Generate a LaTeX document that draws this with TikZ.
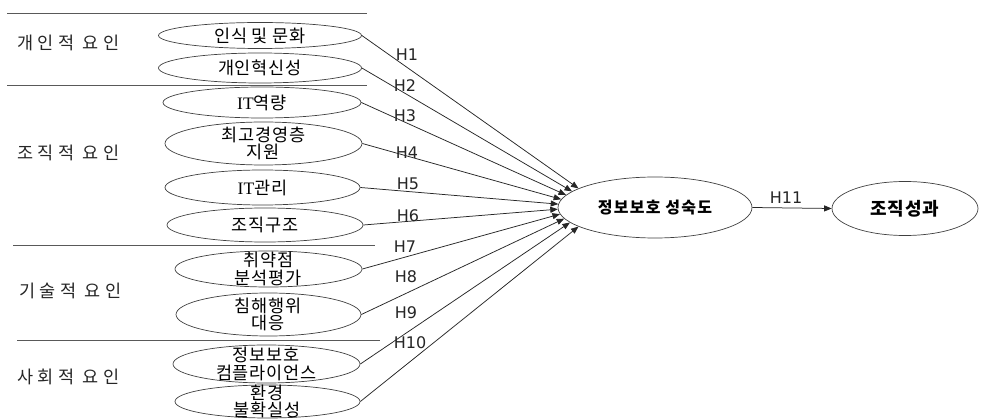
\documentclass[tikz,border=0pt]{standalone}
\usepackage{fontspec}
\setmainfont{DejaVu Sans}
\newfontfamily\kr{Noto Sans CJK KR}[LetterSpace=5]
\newfontfamily\krgroup{Noto Sans CJK KR}[LetterSpace=26]
\newfontfamily\krmid{Noto Sans CJK KR}[LetterSpace=8]
\newfontfamily\krout{Noto Sans CJK KR}[LetterSpace=5]
\newfontfamily\latinserif{Liberation Serif}
\usetikzlibrary{shapes.geometric,arrows.meta}

% Latin "IT" set in a serif face inside the Korean labels
\newcommand{\itword}{{\latinserif IT}}
% wider gap between the two words of a group label
\newcommand{\wgap}{\hspace{8pt}}

\tikzset{
  oval/.style={ellipse, draw=black!75, line width=0.7pt, inner sep=0pt},
  otext/.style={font=\kr\fontsize{17.5}{17.5}\selectfont, align=center, inner sep=0pt},
  grp/.style={font=\krgroup\fontsize{17.5}{19}\selectfont, anchor=west, inner sep=0pt, text=black!85},
  sepline/.style={draw=black!65, line width=0.8pt},
  hyp/.style={draw=black!85, line width=0.75pt, -{Triangle[length=7.5pt,width=6pt]}},
  hlab/.style={font=\fontsize{16}{18}\selectfont, text=black!85, inner sep=0pt},
}

\begin{document}
\begin{tikzpicture}[x=1pt, y=-1pt]
  \useasboundingbox[fill=white] (0,0) rectangle (981,419);

  % group separators
  \draw[sepline] (7,13) -- (367,13);
  \draw[sepline] (7,85) -- (367,85);
  \draw[sepline] (13,245) -- (375,245);
  \draw[sepline] (17,340) -- (380,340);

  % group labels
  \node[grp] (g1) at (17,43) {개인적\wgap 요인};
  \node[grp] (g2) at (17,153) {조직적\wgap 요인};
  \node[grp] (g3) at (19,291) {기술적\wgap 요인};
  \node[grp] (g4) at (17,377) {사회적\wgap 요인};

  % factor ellipses
  \node[oval, minimum width=203, minimum height=26] (f1)  at (260,35.5) {};
  \node[oval, minimum width=203, minimum height=30] (f2)  at (260,68) {};
  \node[oval, minimum width=198, minimum height=31] (f3)  at (262,102.5) {};
  \node[oval, minimum width=197, minimum height=43] (f4)  at (263.5,143.5) {};
  \node[oval, minimum width=195, minimum height=35] (f5)  at (262.5,187.5) {};
  \node[oval, minimum width=196, minimum height=34] (f6)  at (265,225) {};
  \node[oval, minimum width=187, minimum height=36] (f7)  at (268.5,269) {};
  \node[oval, minimum width=185, minimum height=43] (f8)  at (268.5,314.5) {};
  \node[oval, minimum width=187, minimum height=38] (f9)  at (266.5,364) {};
  \node[oval, minimum width=185, minimum height=33] (f10) at (267.5,401.5) {};

  \node[otext] (f1t)  at (f1)  {인식 및 문화};
  \node[otext] (f2t)  at (f2)  {개인혁신성};
  \node[otext] (f3t)  at (f3)  {\itword 역량};
  \node[otext] (f4t)  at (f4)  {최고경영층\\지원};
  \node[otext] (f5t)  at (f5)  {\itword 관리};
  \node[otext] (f6t)  at (f6)  {조직구조};
  \node[otext] (f7t)  at (f7)  {취약점\\분석평가};
  \node[otext] (f8t)  at (f8)  {침해행위\\대응};
  \node[otext] (f9t)  at (f9)  {정보보호\\컴플라이언스};
  \node[otext] (f10t) at (f10) {환경\\불확실성};

  % mediator and outcome
  \node[oval, minimum width=194, minimum height=61] (mid) at (655,207.5) {};
  \node[font=\krmid\bfseries\fontsize{16}{18}\selectfont, inner sep=0pt] (midt) at (mid) {정보보호 성숙도};
  \node[oval, minimum width=146, minimum height=54] (out) at (905,208.5) {};
  \node[font=\krout\bfseries\fontsize{18}{20}\selectfont, inner sep=0pt] (outt) at (out) {조직성과};

  % hypothesis paths
  \draw[hyp] (f1.east)  -- (mid.166);
  \draw[hyp] (f2.east)  -- (mid.169.1);
  \draw[hyp] (f3.east)  -- (mid.172.2);
  \draw[hyp] (f4.east)  -- (mid.175.3);
  \draw[hyp] (f5.east)  -- (mid.178.4);
  \draw[hyp] (f6.east)  -- (mid.181.6);
  \draw[hyp] (f7.east)  -- (mid.184.7);
  \draw[hyp] (f8.east)  -- (mid.187.8);
  \draw[hyp] (f9.east)  -- (mid.190.9);
  \draw[hyp] (f10.east) -- (mid.194);
  \draw[hyp] (mid.east) -- (out.west);

  % hypothesis labels
  \node[hlab] (h1)  at (407,55)  {H1};
  \node[hlab] (h2)  at (405,86)  {H2};
  \node[hlab] (h3)  at (405,116) {H3};
  \node[hlab] (h4)  at (407,153) {H4};
  \node[hlab] (h5)  at (408,184) {H5};
  \node[hlab] (h6)  at (408,216) {H6};
  \node[hlab] (h7)  at (405,247) {H7};
  \node[hlab] (h8)  at (406,277) {H8};
  \node[hlab] (h9)  at (406,313) {H9};
  \node[hlab] (h10) at (410,343) {H10};
  \node[hlab] (h11) at (786,198) {H11};
\end{tikzpicture}
\end{document}
